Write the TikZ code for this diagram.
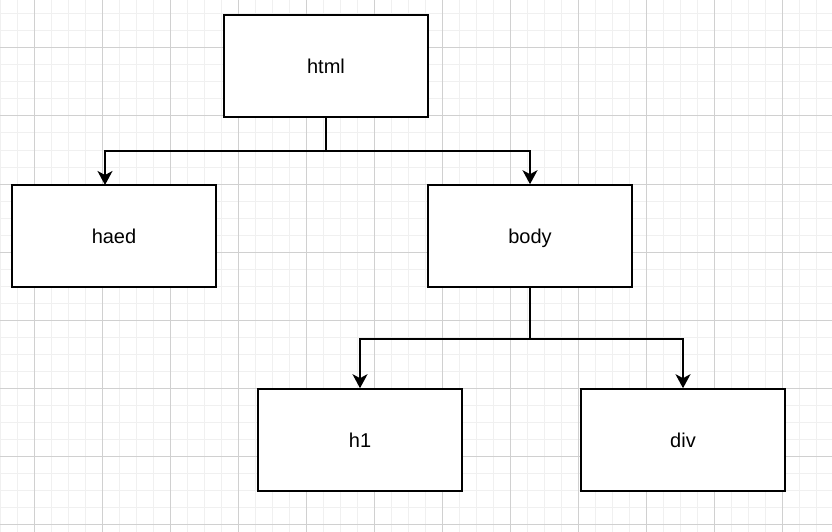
\documentclass[tikz,border=0pt]{standalone}
\usepackage{fontspec}
\setmainfont{Liberation Sans}
\usetikzlibrary{positioning, arrows.meta, calc}

\definecolor{minorgrid}{HTML}{F0F0F0}
\definecolor{majorgrid}{HTML}{D0D0D0}

\tikzset{
	tag/.style={draw, rectangle, line width=1.6pt, fill=white, minimum width=204pt,
	minimum height=102pt, text centered, text height=16pt, text depth=1pt,
	font=\fontsize{20}{24}\selectfont},
	link/.style={line width=1.8pt, -{Stealth[length=14pt, width=15pt, inset=4pt]}},
	stem/.style={line width=1.8pt}
}

\begin{document}
\begin{tikzpicture}[x=1pt, y=-1pt]
		% background and grid
		\fill[white] (0,0) rectangle (832,532);
		\useasboundingbox (0,0) rectangle (832,532);
		\foreach \gx in {0,17,...,832} \draw[minorgrid, line width=1pt] (\gx,0) -- (\gx,532);
		\foreach \gy in {14,31,...,532} \draw[minorgrid, line width=1pt] (0,\gy) -- (832,\gy);
		\foreach \gx in {34,102,...,832} \draw[majorgrid, line width=1pt] (\gx,0) -- (\gx,532);
		\foreach \gy in {48,116,...,532} \draw[majorgrid, line width=1pt] (0,\gy) -- (832,\gy);
		
		% boxes
		\node (html) at (326,66) [tag]{html};
		\node (haed) at (114,236) [tag]{haed};
		\node (body) at (530,236) [tag]{body};
		\node (h1) at (360,440) [tag]{h1};
		\node (div) at (683,440) [tag]{div};
		
		\coordinate (split html) at (326,151);
		\coordinate (haed in) at (105,185);
		\coordinate (split body) at (530,339);
		
		% connectors
		\draw[stem] (html.south) -- (split html);
		\draw[link] (split html) -| (haed in);
		\draw[link] (split html) -| (body.north);
		\draw[stem] (body.south) -- (split body);
		\draw[link] (split body) -| (h1.north);
		\draw[link] (split body) -| (div.north);
\end{tikzpicture}
\end{document}
